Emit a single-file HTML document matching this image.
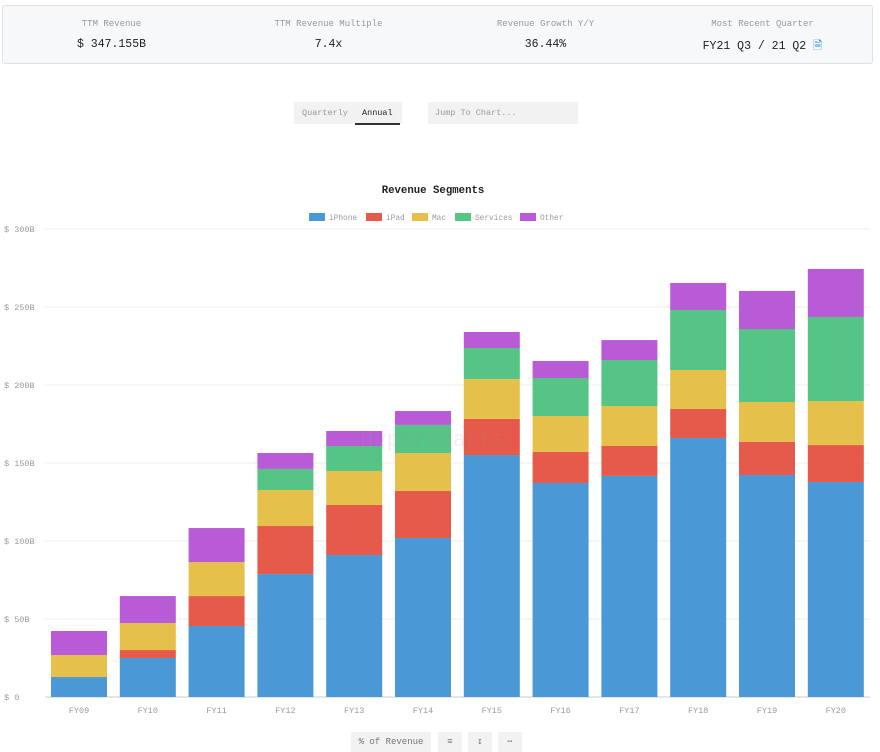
<!DOCTYPE html>
<html><head><meta charset="utf-8"><style>
body{margin:0;width:880px;height:750px;background:#fff;font-family:"Liberation Mono","DejaVu Sans Mono",monospace;overflow:hidden;position:relative}
.panel{position:absolute;left:2px;top:5px;width:869px;height:57px;border:1px solid #dfe2e5;border-radius:3px;background:#f7f8fa}
.stat{position:absolute;top:0;width:217px;text-align:center}
.lbl{font-size:9px;color:#999;margin-top:13px}
.val{font-size:11.5px;color:#222;margin-top:9px}
.tabs{position:absolute;left:294px;top:102px;width:108px;height:22px;background:#f2f2f2;font-size:8.5px}
.jump{position:absolute;left:428px;top:102px;width:150px;height:22px;background:#f2f2f2;font-size:8.5px;color:#999;line-height:22px;padding-left:7px;box-sizing:border-box}
.btn{position:absolute;top:732px;height:20px;background:#f2f2f2;font-size:9px;color:#777;text-align:center;line-height:20px}
</style></head><body>
<div class="panel">
 <div class="stat" style="left:0"><div class="lbl">TTM Revenue</div><div class="val">$ 347.155B</div></div>
 <div class="stat" style="left:217px"><div class="lbl">TTM Revenue Multiple</div><div class="val">7.4x</div></div>
 <div class="stat" style="left:434px"><div class="lbl">Revenue Growth Y/Y</div><div class="val">36.44%</div></div>
 <div class="stat" style="left:651px"><div class="lbl">Most Recent Quarter</div><div class="val">FY21 Q3 / 21 Q2 <span style="color:#2b8be6">&#128462;</span></div></div>
</div>
<div class="tabs">
 <span style="position:absolute;left:8px;top:6px;color:#999">Quarterly</span>
 <span style="position:absolute;left:61px;top:6px;color:#222;border-bottom:2px solid #333;padding:0 7px 5px">Annual</span>
</div>
<div class="jump">Jump To Chart...</div>
<svg id="chart" width="880" height="730" style="position:absolute;left:0;top:0"></svg>
<div class="btn" style="left:351px;width:80px">% of Revenue</div>
<div class="btn" style="left:438px;width:24px">&#8801;</div>
<div class="btn" style="left:468px;width:24px">&#8615;</div>
<div class="btn" style="left:498px;width:24px">&#8943;</div>
<script>
const categories=["FY09","FY10","FY11","FY12","FY13","FY14","FY15","FY16","FY17","FY18","FY19","FY20"];
const seriesNames=["iPhone","iPad","Mac","Services","Other"];
const iphone=[12.8,25,45.5,78.8,91,101.9,155.1,137.2,141.7,166,142.3,137.8];
const ipad=[0,5.1,19.2,30.8,32.1,30.2,23.1,19.9,19.2,18.6,21.2,23.7];
const mac=[14.1,17.3,21.8,23.1,21.8,24.3,25.6,23,25.6,25,25.6,28.2];
const services=[0,0,0,13.5,16,18,19.9,24.4,29.5,38.5,46.8,53.9];
const other=[15.4,17.3,21.8,10.2,9.6,8.9,10.3,10.9,12.8,17.3,24.4,30.8];
const yTicks=[0,50,100,150,200,250,300];
const yTickLabels=["$ 0","$ 50B","$ 100B","$ 150B","$ 200B","$ 250B","$ 300B"];
const colors=["#4a98d6","#e55a4a","#e5c04a","#55c484","#b95bd6"];
const svg=document.getElementById('chart');const NS="http://www.w3.org/2000/svg";
function mk(t,a,txt){const e=document.createElementNS(NS,t);for(const k in a)e.setAttribute(k,a[k]);if(txt!==undefined)e.textContent=txt;svg.appendChild(e);return e;}
const y0=697,yMax=300,pxH=468,xL=45,xR=870,step=68.8,x0=79,bw=56;
const Y=v=>y0-v/yMax*pxH;const X=i=>x0+i*step;
yTicks.forEach((v,i)=>{
 const g=mk('line',{x1:xL,x2:xR,y1:Y(v),y2:Y(v),stroke:v===0?'#ccc':'#eee','stroke-width':1});
 
 
 const t=mk('text',{x:4,y:Y(v)+3,'font-size':8.5,fill:'#999','font-family':'Liberation Mono,monospace'},yTickLabels[i]);
 
 
});
const series=[iphone,ipad,mac,services,other];
categories.forEach((c,i)=>{
 let acc=0;
 series.forEach((s,k)=>{
  const v=s[i];if(v<=0)return;
  const r=mk('rect',{x:X(i)-bw/2,y:Y(acc+v),width:bw,height:v/yMax*pxH,fill:colors[k]});
  
  
  acc+=v;
 });
 const t=mk('text',{x:X(i),y:713,'font-size':8.5,fill:'#999','text-anchor':'middle','font-family':'Liberation Mono,monospace'},c);
 
 
});
const wm=mk('text',{x:433,y:446,'font-size':22,fill:'#999','fill-opacity':0.15,'text-anchor':'middle','font-family':'Liberation Mono,monospace'},'HyperCharts');


const title=mk('text',{x:433,y:193,'font-size':10.7,'font-weight':'bold',fill:'#222','text-anchor':'middle','font-family':'Liberation Mono,monospace'},'Revenue Segments');


const legX=[309,366,412,455,520];
seriesNames.forEach((n,k)=>{
 const r=mk('rect',{x:legX[k],y:213,width:16,height:8,fill:colors[k]});
 
 
 const t=mk('text',{x:legX[k]+20,y:220,'font-size':7.8,fill:'#999','font-family':'Liberation Mono,monospace'},n);
 
 
});
</script>
</body></html>
